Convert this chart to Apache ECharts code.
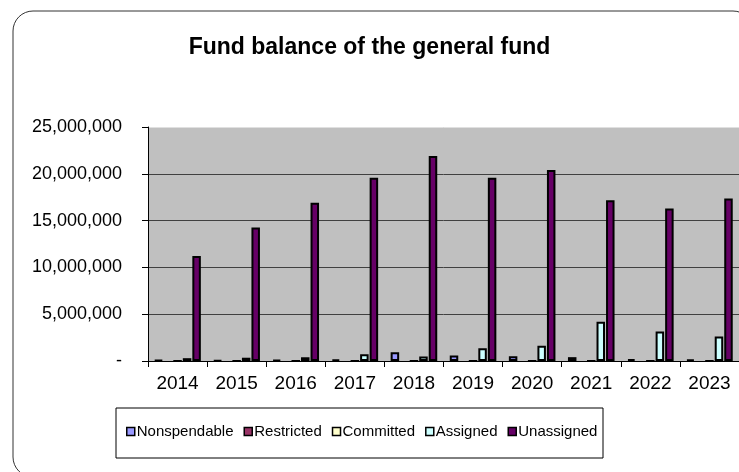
<!DOCTYPE html>
<html>
<head>
<meta charset="utf-8">
<script src="https://cdn.jsdelivr.net/npm/echarts@6/dist/echarts.min.js"></script>
<style>
html,body{margin:0;padding:0;background:#fff;}
#chart{width:739px;height:472px;}
</style>
</head>
<body>
<div id="chart"></div>
<script>
const years = ['2014','2015','2016','2017','2018','2019','2020','2021','2022','2023'];
const nonspendable = [90000, 80000, 130000, 160000, 940000, 590000, 510000, 410000, 190000, 160000];
const restricted = [null, null, null, null, null, null, null, null, null, null];
const committed = [0, 0, 0, 0, 0, 0, 0, 0, 0, 0];
const assigned = [300000, 350000, 400000, 730000, 480000, 1370000, 1630000, 4200000, 3160000, 2620000];
const unassigned = [11220000, 14260000, 16900000, 19570000, 21900000, 19570000, 20400000, 17180000, 16300000, 17370000];
const seriesNames = ['Nonspendable','Restricted','Committed','Assigned','Unassigned'];
const seriesColors = ['#9999FF','#993366','#FFFFCC','#CCFFFF','#660066'];
const seriesData = [nonspendable, restricted, committed, assigned, unassigned];

const FONT = 'Liberation Sans, Arial, sans-serif';
const chart = echarts.init(document.getElementById('chart'));
chart.setOption({
  animation: false,
  backgroundColor: '#fff',
  title: {
    text: 'Fund balance of the general fund',
    left: 'center',
    top: 31,
    textStyle: {fontFamily: FONT, fontSize: 23, fontWeight: 'bold', color: '#000'}
  },
  graphic: [
    {type: 'rect', left: 10.5, top: 8.5, z: -1, shape: {x: 0, y: 0, width: 740, height: 466, r: 20}, style: {fill: 'none', stroke: '#333', lineWidth: 1}},
    {type: 'rect', left: 115.5, top: 407.5, z: 0, shape: {x: 0, y: 0, width: 487, height: 50}, style: {fill: '#fff', stroke: '#000', lineWidth: 1}}
  ],
  legend: {
    data: seriesNames,
    bottom: 28,
    left: 121,
    itemWidth: 8,
    itemHeight: 8,
    itemGap: 10,
    icon: 'rect',
    z: 5,
    itemStyle: {borderColor: '#000', borderWidth: 1.5},
    textStyle: {fontFamily: FONT, fontSize: 15, color: '#000', padding: [0,0,0,-3]}
  },
  grid: {left: 148, top: 127, right: -9, bottom: 111, backgroundColor: '#C0C0C0', show: true, borderWidth: 0},
  xAxis: {
    type: 'category',
    data: years,
    axisLine: {lineStyle: {color: '#000', width: 1}},
    axisTick: {show: true, length: 6, lineStyle: {color: '#000'}},
    axisLabel: {fontFamily: FONT, fontSize: 19, color: '#000', margin: 13}
  },
  yAxis: {
    type: 'value',
    min: 0,
    max: 25000000,
    interval: 5000000,
    axisLine: {show: true, lineStyle: {color: '#000', width: 1}},
    axisTick: {show: true, inside: false, length: 6, lineStyle: {color: '#000'}},
    axisLabel: {
      fontFamily: FONT, fontSize: 18, color: '#000', margin: 26,
      formatter: v => v === 0 ? '-' : v.toLocaleString('en-US')
    },
    splitLine: {show: true, lineStyle: {color: ['#404040','#404040','#404040','#404040','#404040','#e0e0e0'], width: 1}}
  },
  series: seriesNames.map((n, i) => ({
    name: n,
    type: 'bar',
    data: seriesData[i],
    barWidth: 8.5,
    barGap: '12%',
    itemStyle: {color: seriesColors[i], borderColor: '#000', borderWidth: 2}
  }))
});
</script>
</body>
</html>
